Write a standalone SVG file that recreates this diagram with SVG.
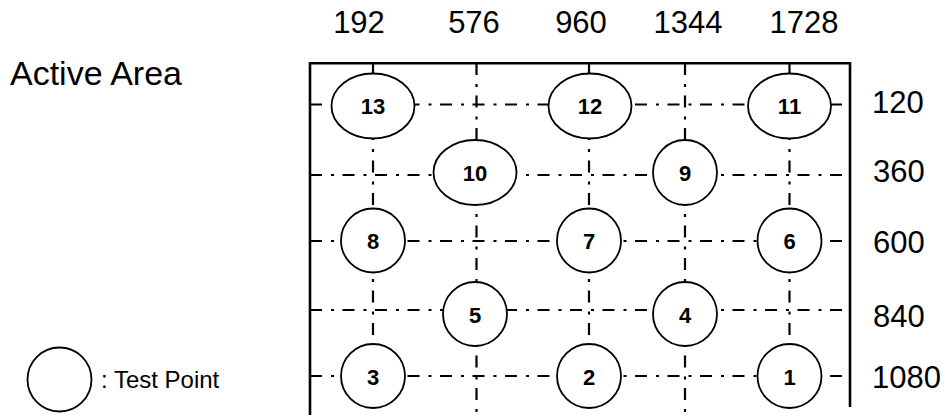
<svg xmlns="http://www.w3.org/2000/svg" width="949" height="415" viewBox="0 0 949 415">
<style>
.bg{fill:#fff}
.border{stroke:#000;stroke-width:2.6;fill:none}
.grid{stroke:#000;stroke-width:2.2;fill:none;stroke-dasharray:12 9 3 8.5}
.node{fill:#fff;stroke:#000;stroke-width:1.8}
.nl{font-family:"Liberation Sans",Arial,sans-serif;font-weight:bold;font-size:22px;text-anchor:middle;fill:#000}
.ax{font-family:"Liberation Sans",Arial,sans-serif;font-size:31px;fill:#000}
.mid{text-anchor:middle}
</style>
<rect class="bg" x="0" y="0" width="949" height="415"/>
<g id="labels">
<text x="10" y="85" font-family="Liberation Sans, Arial, sans-serif" font-size="34">Active Area</text>
<text class="ax mid" x="359" y="33">192</text>
<text class="ax mid" x="474" y="33">576</text>
<text class="ax mid" x="581" y="33">960</text>
<text class="ax mid" x="688" y="33">1344</text>
<text class="ax mid" x="804" y="33">1728</text>
<text class="ax" x="872" y="113">120</text>
<text class="ax" x="873" y="182">360</text>
<text class="ax" x="873" y="253">600</text>
<text class="ax" x="873" y="327">840</text>
<text class="ax" x="872" y="388">1080</text>
</g>
<g id="connectors">
<path class="border" d="M310,415 V63.3 H850 V407"/>
<line class="grid" x1="310" y1="104.5" x2="850" y2="104.5"/>
<line class="grid" x1="310" y1="175" x2="850" y2="175"/>
<line class="grid" x1="310" y1="241" x2="850" y2="241"/>
<line class="grid" x1="310" y1="310" x2="850" y2="310"/>
<line class="grid" x1="310" y1="376" x2="850" y2="376"/>
<line class="grid" x1="373" y1="63" x2="373" y2="400"/>
<line class="grid" x1="476.5" y1="63" x2="476.5" y2="415"/>
<line class="grid" x1="589" y1="63" x2="589" y2="400"/>
<line class="grid" x1="685" y1="63" x2="685" y2="415"/>
<line class="grid" x1="789.5" y1="63" x2="789.5" y2="400"/>
</g>
<g id="n13"><ellipse class="node" cx="373" cy="106" rx="41.5" ry="32.5"/><text class="nl" x="373" y="114">13</text></g>
<g id="n12"><ellipse class="node" cx="590" cy="106" rx="41.5" ry="32.5"/><text class="nl" x="590" y="114">12</text></g>
<g id="n11"><ellipse class="node" cx="789.5" cy="106" rx="41.5" ry="32.5"/><text class="nl" x="789.5" y="114">11</text></g>
<g id="n10"><ellipse class="node" cx="475" cy="172.5" rx="41.5" ry="32.5"/><text class="nl" x="475" y="180.5">10</text></g>
<g id="n9"><ellipse class="node" cx="685" cy="172.5" rx="32" ry="32.5"/><text class="nl" x="685" y="180.5">9</text></g>
<g id="n8"><circle class="node" cx="373" cy="240.5" r="32"/><text class="nl" x="373" y="249">8</text></g>
<g id="n7"><circle class="node" cx="589" cy="240.5" r="32"/><text class="nl" x="589" y="249">7</text></g>
<g id="n6"><circle class="node" cx="789.5" cy="240.5" r="32"/><text class="nl" x="789.5" y="249">6</text></g>
<g id="n5"><circle class="node" cx="475" cy="314" r="32"/><text class="nl" x="475" y="322.5">5</text></g>
<g id="n4"><circle class="node" cx="685" cy="314" r="32"/><text class="nl" x="685" y="322.5">4</text></g>
<g id="n3"><circle class="node" cx="373" cy="376" r="32"/><text class="nl" x="373" y="384.5">3</text></g>
<g id="n2"><circle class="node" cx="589" cy="376" r="32"/><text class="nl" x="589" y="384.5">2</text></g>
<g id="n1"><circle class="node" cx="789.5" cy="376" r="32"/><text class="nl" x="789.5" y="384.5">1</text></g>
<g id="legend"><circle class="node" cx="59.5" cy="379.5" r="32"/><text x="101" y="388" font-family="Liberation Sans, Arial, sans-serif" font-size="24">: Test Point</text></g>
</svg>
